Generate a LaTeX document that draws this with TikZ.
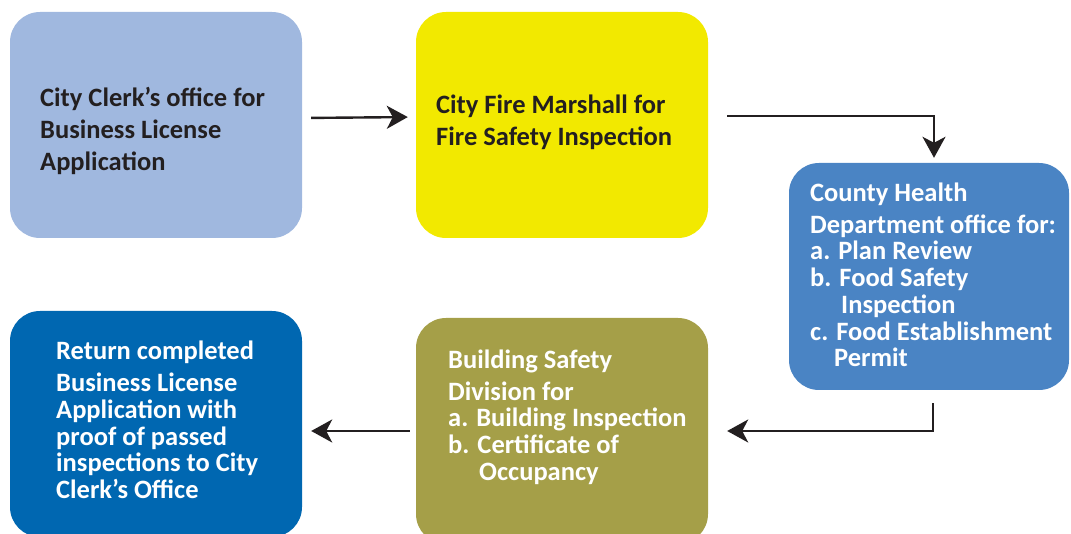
\documentclass[tikz,border=0pt]{standalone}
\usepackage{fontspec}
\setmainfont{Carlito}
\usetikzlibrary{shapes,arrows,arrows.meta,positioning,calc}

\definecolor{clerkblue}{HTML}{A0B8DF}
\definecolor{fireyellow}{HTML}{F2E900}
\definecolor{healthblue}{HTML}{4A84C4}
\definecolor{buildolive}{HTML}{A59F48}
\definecolor{returnblue}{HTML}{0067B1}
\definecolor{ink}{HTML}{231F20}

\begin{document}
\begin{tikzpicture}[x=1pt, y=1pt,
			block/.style={rectangle, rounded corners=30pt, draw=none,
				minimum width=292pt, minimum height=226pt},
			txt/.style={anchor=west, inner sep=0pt, align=left,
				font=\fontsize{26.5}{26.7}\selectfont\bfseries},
			line/.style={draw=ink, line width=2.4pt,
				-{Stealth[length=21pt, width=23pt, inset=6pt]}}]
			
			\useasboundingbox (0,0) rectangle (1071,533);
			
			% City Clerk
			\node[block, fill=clerkblue] (clerk) at (156,408) {};
			\node[txt, text=ink] (clerktxt) at (40,402) {City Clerk’s office for\\[5pt]Business License\\[5pt]Application};
			
			% Fire Marshall
			\node[block, fill=fireyellow] (fire) at (562,408) {};
			\node[txt, text=ink] (firetxt) at (436,411) {City Fire Marshall for\\[5pt]Fire Safety Inspection};
			
			% County Health
			\node[block, fill=healthblue, minimum width=280pt, minimum height=227pt] (health) at (929,256.5) {};
			\node[txt, text=white] (healthtxt) at (810,258) {County Health\\[5pt]Department office for:\\a. Plan Review\\b. Food Safety\\\hspace*{31pt}Inspection\\c. Food Establishment\\\hspace*{24pt}Permit};
			
			% Building Safety
			\node[block, fill=buildolive] (build) at (562,102) {};
			\node[txt, text=white] (buildtxt) at (448,116) {Building Safety\\[5pt]Division for\\a. Building Inspection\\b. Certificate of\\\hspace*{31pt}Occupancy};
			
			% Return
			\node[block, fill=returnblue] (ret) at (156,109) {};
			\node[txt, text=white] (rettxt) at (56,113) {Return completed\\[5pt]Business License\\Application with\\proof of passed\\inspections to City\\Clerk’s Office};
			
			% Arrows
			\path[line, shorten <=9pt, shorten >=8pt] ([yshift=7pt]clerk.east) -- ([yshift=8pt]fire.west);
			\path[line, shorten <=19pt, shorten >=5pt] ([yshift=9pt]fire.east) -| ([xshift=5pt]health.north);
			\path[line, shorten <=13pt, shorten >=19pt] ([xshift=4pt]health.south) |- (build.east);
			\path[line, shorten <=6pt, shorten >=9pt] (build.west) -- (build.west -| ret.east);
		\end{tikzpicture}
\end{document}
